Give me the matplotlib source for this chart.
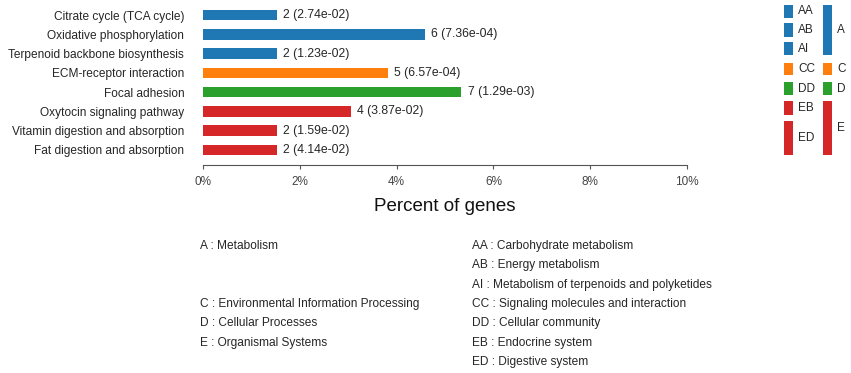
import matplotlib
matplotlib.use("Agg")
import matplotlib.pyplot as plt
from matplotlib.patches import Rectangle

plt.rcParams['font.family'] = ['Liberation Sans', 'DejaVu Sans']

pathways = ["Citrate cycle (TCA cycle)", "Oxidative phosphorylation",
            "Terpenoid backbone biosynthesis", "ECM-receptor interaction",
            "Focal adhesion", "Oxytocin signaling pathway",
            "Vitamin digestion and absorption", "Fat digestion and absorption"]
percents = [1.53, 4.58, 1.53, 3.82, 5.34, 3.05, 1.53, 1.53]
counts = [2, 6, 2, 5, 7, 4, 2, 2]
pvalues = ["2.74e-02", "7.36e-04", "1.23e-02", "6.57e-04",
           "1.29e-03", "3.87e-02", "1.59e-02", "4.14e-02"]
groups = ["A", "A", "A", "C", "D", "E", "E", "E"]
xticks = [0, 2, 4, 6, 8, 10]
xtick_labels = ["0%", "2%", "4%", "6%", "8%", "10%"]

colors = {"A": "#1f77b4", "C": "#ff7f0e", "D": "#2ca02c", "E": "#d62728"}
txt = "#262626"

W, H = 851, 373
fig = plt.figure(figsize=(W / 100, H / 100), dpi=100)

ax = fig.add_axes([203 / W, (H - 165) / H, (687 - 203) / W, 160 / H])
ys = list(range(len(pathways)))
ax.barh(ys, percents, height=0.55, color=[colors[g] for g in groups])
for y, p, c, pv in zip(ys, percents, counts, pvalues):
    ax.text(p + 0.13, y, f"{c} ({pv})", va="center", ha="left", fontsize=8.8, color=txt)
ax.set_ylim(7.78, -0.52)
ax.set_xlim(0, 10)
ax.set_yticks(ys)
ax.set_yticklabels(pathways, fontsize=8.6, color=txt)
ax.tick_params(axis="y", length=0, pad=13.5)
ax.set_xticks(xticks)
ax.set_xticklabels(xtick_labels, fontsize=8.5, color="#444444")
ax.tick_params(axis="x", length=3, width=0.8, color="#555555", pad=5)
for s in ["top", "right", "left"]:
    ax.spines[s].set_visible(False)
ax.spines["bottom"].set_color("#555555")
ax.spines["bottom"].set_linewidth(0.8)
ax.set_xlabel("Percent of genes", fontsize=13.5, color="#111111", labelpad=7)

# legend on right (figure pixel coords)
def px_rect(x0, y0, x1, y1, color):
    fig.patches.append(Rectangle((x0 / W, 1 - y1 / H), (x1 - x0) / W, (y1 - y0) / H,
                                 transform=fig.transFigure, color=color, lw=0))

sub_codes = ["AA", "AB", "AI", "CC", "DD", "EB", "ED"]
sub_groups = ["A", "A", "A", "C", "D", "E", "E"]
sub_spans = [(5, 18), (23, 37), (42, 55), (63, 75), (82, 95), (101, 115), (121, 155)]
for code, g, (y0, y1) in zip(sub_codes, sub_groups, sub_spans):
    px_rect(784, y0, 793, y1, colors[g])
    fig.text(798 / W, 1 - ((y0 + y1) / 2) / H, code, fontsize=8.5, color=txt, va="center", ha="left")

main_codes = ["A", "C", "D", "E"]
main_spans = [(5, 55), (63, 75), (82, 95), (101, 155)]
for code, (y0, y1) in zip(main_codes, main_spans):
    px_rect(823, y0, 832, y1, colors[code])
    fig.text(837 / W, 1 - ((y0 + y1) / 2) / H, code, fontsize=8.5, color=txt, va="center", ha="left")

# footnote descriptions
left_notes = [("A : Metabolism", 246), ("C : Environmental Information Processing", 304),
              ("D : Cellular Processes", 323), ("E : Organismal Systems", 343)]
right_notes = [("AA : Carbohydrate metabolism", 246), ("AB : Energy metabolism", 265),
               ("AI : Metabolism of terpenoids and polyketides", 285),
               ("CC : Signaling molecules and interaction", 304),
               ("DD : Cellular community", 323), ("EB : Endocrine system", 343),
               ("ED : Digestive system", 362)]
for s, y in left_notes:
    fig.text(200 / W, 1 - y / H, s, fontsize=8.6, color=txt, va="center", ha="left")
for s, y in right_notes:
    fig.text(472 / W, 1 - y / H, s, fontsize=8.6, color=txt, va="center", ha="left")

fig.savefig("out.png", dpi=100, facecolor="white")
